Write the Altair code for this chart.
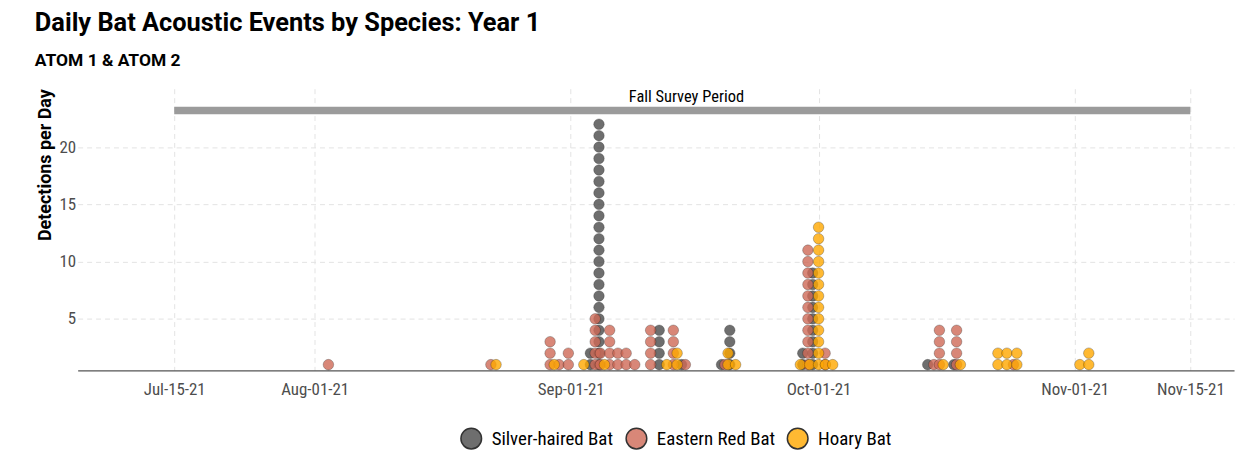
import altair as alt
import pandas as pd

COND = "Roboto Condensed, Liberation Sans Narrow, sans-serif"
BOLD = "Roboto, Liberation Sans, sans-serif"

species = ["Silver-haired Bat", "Eastern Red Bat", "Hoary Bat"]
fill_colors = ["#4a4a4a", "#cf6a57", "#ffa800"]

# daily stacks: (position in time, number of detections that day)
silver_times = ["2021-09-03T09:00", "2021-09-04T10:00", "2021-09-11T17:00", "2021-09-14T10:00",
                "2021-09-19T06:00", "2021-09-20T06:00", "2021-09-29T02:00", "2021-09-30T07:00",
                "2021-10-14T05:00", "2021-10-17T09:00"]
silver_counts = [2, 22, 4, 1, 1, 4, 2, 9, 1, 1]

red_times = ["2021-08-02T16:00", "2021-08-22T08:00", "2021-08-29T12:00", "2021-08-30T14:00",
             "2021-08-31T17:00", "2021-09-03T23:00", "2021-09-04T14:00", "2021-09-05T17:00",
             "2021-09-06T17:00", "2021-09-07T17:00", "2021-09-08T18:00", "2021-09-10T16:00",
             "2021-09-13T10:00", "2021-09-14T21:00", "2021-09-19T16:00", "2021-09-29T17:00",
             "2021-10-01T19:00", "2021-10-14T23:00", "2021-10-15T15:00", "2021-10-17T17:00",
             "2021-10-24T14:00"]
red_counts = [1, 1, 3, 1, 2, 5, 2, 4, 2, 2, 1, 4, 4, 1, 1, 11, 2, 1, 4, 4, 1]

hoary_times = ["2021-08-22T23:00", "2021-08-30T00:00", "2021-09-02T14:00", "2021-09-05T02:00",
               "2021-09-12T15:00", "2021-09-13T21:00", "2021-09-20T01:00", "2021-09-20T23:00",
               "2021-09-28T19:00", "2021-09-29T22:00", "2021-10-01T00:00", "2021-10-01T20:00",
               "2021-10-02T17:00", "2021-10-16T02:00", "2021-10-18T04:00", "2021-10-22T17:00",
               "2021-10-23T19:00", "2021-10-25T00:00", "2021-11-01T15:00", "2021-11-02T17:00"]
hoary_counts = [1, 1, 1, 1, 1, 2, 2, 1, 1, 1, 13, 1, 1, 1, 1, 2, 2, 2, 1, 2]

survey_start = "2021-07-15T00:00:00"
survey_end = "2021-11-15T00:00:00"
survey_label_at = "2021-09-15T00:00:00"
survey_level = 23.2
survey_label = "Fall Survey Period"

rows = []
for sp, times, counts in zip(species, [silver_times, red_times, hoary_times],
                             [silver_counts, red_counts, hoary_counts]):
    for t, c in zip(times, counts):
        for k in range(1, c + 1):
            rows.append({"species": sp, "time": t + ":00", "n": k})
dots = pd.DataFrame(rows)

survey = pd.DataFrame([{"start": survey_start, "end": survey_end, "mid": survey_label_at,
                        "y": survey_level, "label": survey_label}])

x_scale = alt.Scale(domain=[alt.DateTime(year=2021, month=7, date=3, hours=7, minutes=30),
                            alt.DateTime(year=2021, month=11, date=20, hours=7)])
y_scale = alt.Scale(domain=[0.5, 25.1], nice=False, zero=False)

tick_dates = [alt.DateTime(year=2021, month=7, date=15), alt.DateTime(year=2021, month=8, date=1),
              alt.DateTime(year=2021, month=9, date=1), alt.DateTime(year=2021, month=10, date=1),
              alt.DateTime(year=2021, month=11, date=1), alt.DateTime(year=2021, month=11, date=15)]

x_axis = alt.Axis(values=tick_dates, format="%b-%d-%y", title=None, labelFontSize=17,
                  labelColor="#4d4d4d", labelFont=COND, labelPadding=11, ticks=False,
                  domain=True, domainColor="#555555", domainWidth=1.2,
                  grid=True, gridColor="#e3e3e3", gridDash=[5, 4], labelFlush=False)
y_axis = alt.Axis(values=[5, 10, 15, 20], title="Detections per Day", titleFontSize=18,
                  titleFont=BOLD, titleFontWeight="bold", titleColor="#000000",
                  titleAnchor="end", titlePadding=5, labelFontSize=17, labelColor="#4d4d4d",
                  labelFont=COND, labelPadding=2, ticks=False, domain=False,
                  grid=True, gridColor="#e3e3e3", gridDash=[5, 4])

bar = alt.Chart(survey).mark_rule(color="#9b9b9b", strokeWidth=7.5).encode(
    x=alt.X("start:T", scale=x_scale, axis=x_axis),
    x2="end:T",
    y=alt.Y("y:Q", scale=y_scale, axis=y_axis),
)

label = alt.Chart(survey).mark_text(font=COND, fontSize=16.5, color="#000000",
                                    baseline="bottom", dy=-5).encode(
    x=alt.X("mid:T", scale=x_scale),
    y=alt.Y("y:Q", scale=y_scale),
    text="label:N",
)

points = alt.Chart(dots).mark_circle(size=112, opacity=0.8, stroke="#000000",
                                     strokeOpacity=0.35, strokeWidth=0.9).encode(
    x=alt.X("time:T", scale=x_scale),
    y=alt.Y("n:Q", scale=y_scale),
    color=alt.Color("species:N", scale=alt.Scale(domain=species, range=fill_colors),
                    sort=species,
                    legend=alt.Legend(title=None, orient="none", direction="horizontal",
                                      legendX=384, legendY=340, symbolSize=430,
                                      labelFontSize=19, labelFont=COND, labelColor="#000000",
                                      labelOffset=9, columnPadding=9, symbolOpacity=0.8)),
)

chart = alt.layer(bar, label, points).properties(
    width=1162, height=283,
    autosize=alt.AutoSizeParams(type="none"),
    padding={"left": 70, "top": 80, "right": 10, "bottom": 90},
    title=alt.TitleParams(text="Daily Bat Acoustic Events by Species: Year 1",
                          subtitle="ATOM 1 & ATOM 2", anchor="start", frame="group",
                          font=BOLD, fontSize=25.5, fontWeight="bold", color="#000000",
                          subtitleFont=BOLD, subtitleFontSize=17.5, subtitleFontWeight="bold",
                          subtitleColor="#000000", subtitlePadding=16, dx=-43, offset=19),
).configure(background="#ffffff").configure_view(stroke=None)

chart.save("out.html", embed_options={"renderer": "svg", "actions": False})
